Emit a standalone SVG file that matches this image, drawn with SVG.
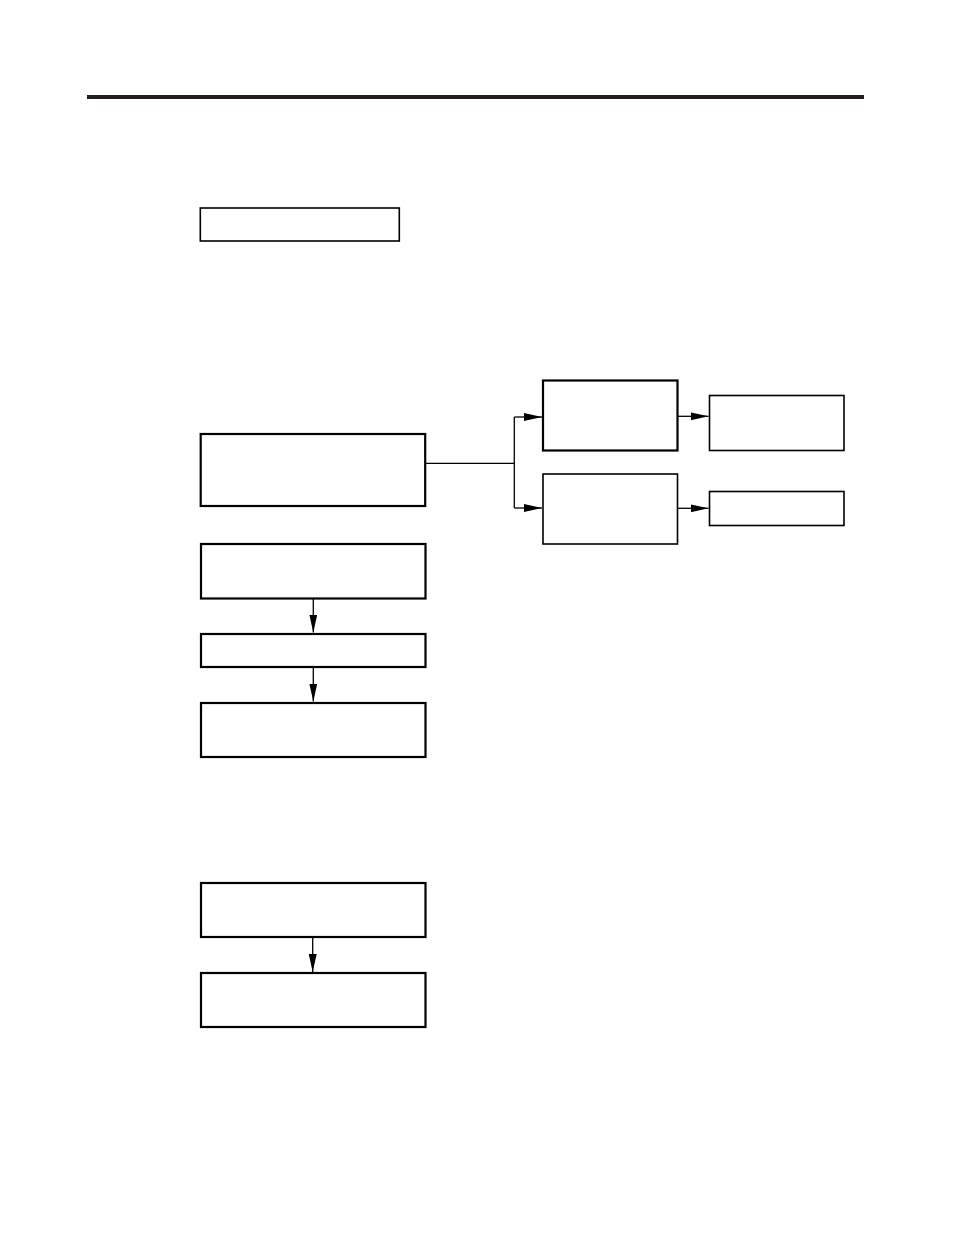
<svg xmlns="http://www.w3.org/2000/svg" width="954" height="1235" viewBox="0 0 954 1235">
  <style>
    .box { fill: #ffffff; stroke: #000000; stroke-width: 1.6; }
    .thick { stroke-width: 2.2; }
    .conn { fill: none; stroke: #000000; stroke-width: 1.3; }
  </style>
  <defs>
    <marker id="arrow" viewBox="0 0 18 8" refX="18" refY="4" markerWidth="18" markerHeight="8" markerUnits="userSpaceOnUse" orient="auto">
      <path d="M0,0 L18,4 L0,8 Z" fill="#000000"/>
    </marker>
  </defs>
  <rect width="954" height="1235" fill="#ffffff"/>
  <line x1="87" y1="97" x2="864" y2="97" stroke="#231f20" stroke-width="4"/>

  <g id="node-top"><rect class="box" x="200.3" y="208" width="199" height="33"/></g>
  <g id="node-main"><rect class="box thick" x="200.7" y="434" width="224.5" height="72"/></g>
  <g id="node-mid-upper"><rect class="box thick" x="543" y="380.5" width="134.5" height="70"/></g>
  <g id="node-mid-lower"><rect class="box" x="543" y="474" width="134.5" height="70"/></g>
  <g id="node-right-upper"><rect class="box" x="709.5" y="395.5" width="134.5" height="55"/></g>
  <g id="node-right-lower"><rect class="box" x="709.5" y="491.5" width="134.5" height="34"/></g>
  <g id="node-seq1"><rect class="box thick" x="201" y="544" width="224.5" height="54.5"/></g>
  <g id="node-seq2"><rect class="box thick" x="201" y="634" width="224.5" height="33"/></g>
  <g id="node-seq3"><rect class="box thick" x="201" y="703" width="224.5" height="54"/></g>
  <g id="node-seq4"><rect class="box thick" x="201" y="883" width="224.5" height="54"/></g>
  <g id="node-seq5"><rect class="box thick" x="201" y="973" width="224.5" height="54"/></g>

  <g id="connectors">
    <polyline class="conn" points="425.8,463.3 514.3,463.3"/>
    <polyline class="conn" points="514.3,417 514.3,508"/>
    <polyline class="conn" points="514.3,417 542,417" marker-end="url(#arrow)"/>
    <polyline class="conn" points="514.3,508 542,508" marker-end="url(#arrow)"/>
    <polyline class="conn" points="677.5,416.3 708.5,416.3" marker-end="url(#arrow)"/>
    <polyline class="conn" points="677.5,508.3 708.5,508.3" marker-end="url(#arrow)"/>
    <polyline class="conn" points="313.3,598.5 313.3,632.5" marker-end="url(#arrow)"/>
    <polyline class="conn" points="313.3,667 313.3,701.5" marker-end="url(#arrow)"/>
    <polyline class="conn" points="312.7,937 312.7,972" marker-end="url(#arrow)"/>
  </g>
</svg>
